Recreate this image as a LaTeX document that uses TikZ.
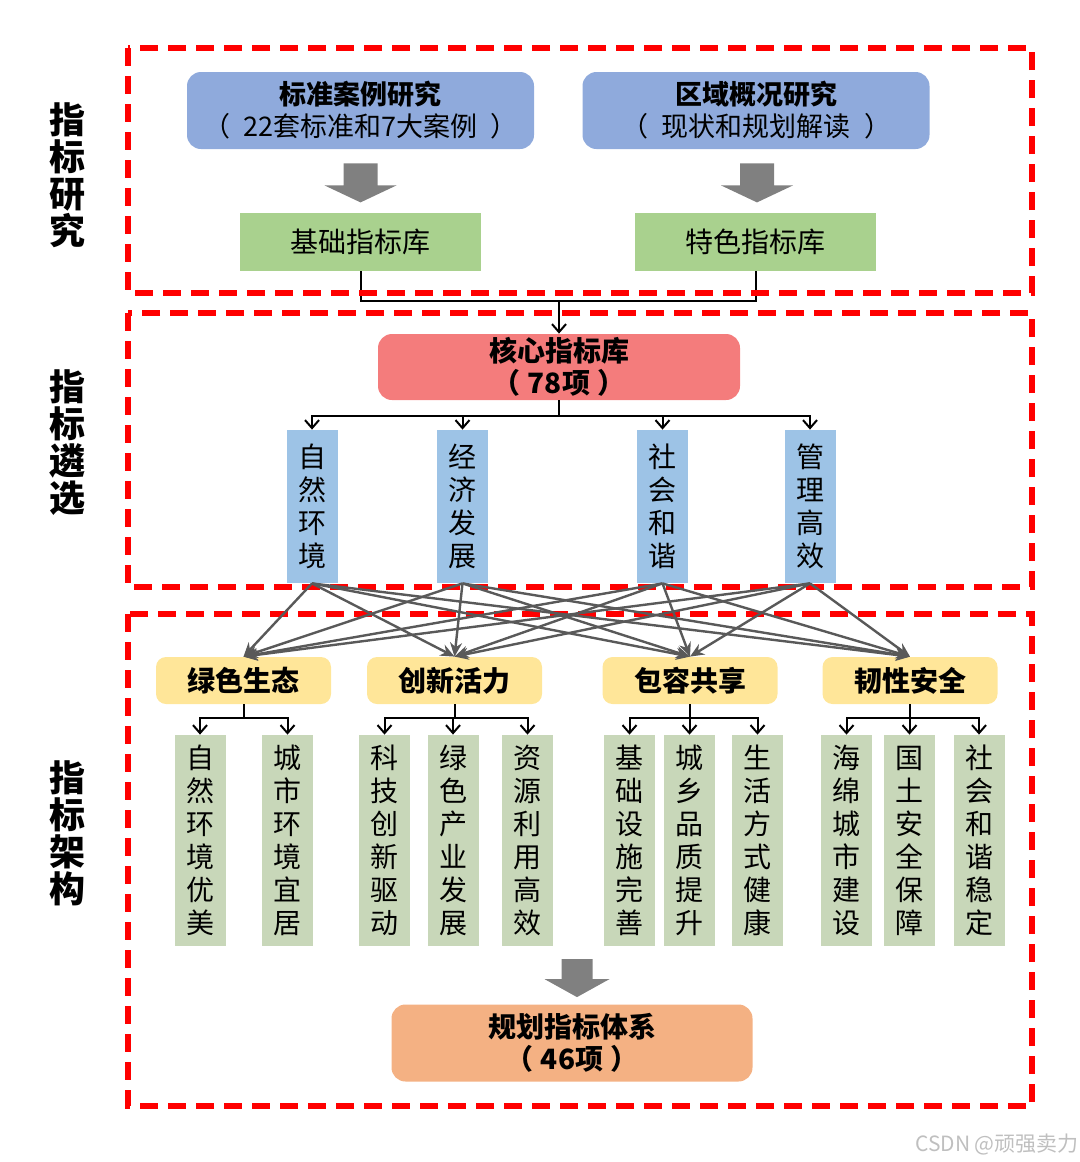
\documentclass[tikz,border=0pt]{standalone}
\usepackage{fontspec}
\setmainfont{Noto Sans CJK SC}
\usetikzlibrary{positioning,calc,arrows.meta}

\definecolor{studyBlue}{HTML}{8FAADC}
\definecolor{libGreen}{HTML}{A9D18E}
\definecolor{coreRed}{HTML}{F47C7C}
\definecolor{dimBlue}{HTML}{9DC3E6}
\definecolor{goalYellow}{HTML}{FFE699}
\definecolor{itemGreen}{HTML}{C8D7B9}
\definecolor{planOrange}{HTML}{F4B183}

\begin{document}
\begin{tikzpicture}[
    x=0.5pt, y=-0.5pt,
    zone/.style={draw=red, dash pattern=on 9pt off 5pt, line width=2.8pt},
    side/.style={font=\bfseries\fontsize{18}{18.5}\selectfont, align=center, inner sep=0pt},
    study/.style={fill=studyBlue, rounded corners=7pt, minimum width=173.5pt, minimum height=38.5pt,
      align=center, inner sep=0pt, font=\fontsize{13.5}{16}\selectfont},
    lib/.style={fill=libGreen, minimum width=120.5pt, minimum height=29pt, inner sep=0pt,
      font=\fontsize{14}{16}\selectfont},
    corebox/.style={fill=coreRed, rounded corners=7pt, minimum width=181pt, minimum height=33pt,
      align=center, inner sep=0pt, font=\bfseries\fontsize{14}{16}\selectfont},
    dim/.style={fill=dimBlue, minimum width=25.5pt, minimum height=76.5pt, text width=14pt,
      align=center, inner sep=0pt, font=\fontsize{14}{16.5}\selectfont},
    goal/.style={fill=goalYellow, rounded corners=5pt, minimum width=87.5pt, minimum height=23.5pt,
      inner sep=0pt, font=\bfseries\fontsize{14}{16}\selectfont},
    item/.style={fill=itemGreen, minimum width=25.5pt, minimum height=105.5pt, text width=14pt,
      align=center, inner sep=0pt, font=\fontsize{14}{16.5}\selectfont},
    plan/.style={fill=planOrange, rounded corners=7pt, minimum width=180.5pt, minimum height=38.5pt,
      align=center, inner sep=0pt, font=\bfseries\fontsize{14}{16}\selectfont},
    blk/.style={fill=black!50},
    wire/.style={line width=1pt, black},
    tip/.style={-{Straight Barb[length=4pt,width=7pt]}},
    fan/.style={-{Stealth[length=7pt,width=6pt]}, line width=1.2pt, black!65},
    wmark/.style={font=\fontsize{10.5}{12}\selectfont, text=black!25, inner sep=0pt},
]
\useasboundingbox (0,0) rectangle (1080,1162);

% side titles
\node[side] (s1) at (67,175) {指\\标\\研\\究};
\node[side] (s2) at (67,443) {指\\标\\遴\\选};
\node[side] (s3) at (67,833) {指\\标\\架\\构};

% research
\node[study] (std) at (360.5,110.5) {\textbf{标准案例研究}\\（\enspace 22套标准和7大案例\enspace）};
\node[study] (area) at (756,110.5) {\textbf{区域概况研究}\\（\enspace 现状和规划解读\enspace）};
\node[lib] (base) at (360.5,242) {基础指标库};
\node[lib] (feat) at (755.5,242) {特色指标库};

% selection
\node[corebox] (core) at (559,367) {核心指标库\\（\hspace{0.25em}78项\hspace{0.25em}）};
\foreach \n/\x/\t in {d1/312/{自\\然\\环\\境}, d2/462.5/{经\\济\\发\\展},
                      d3/662.5/{社\\会\\和\\谐}, d4/810/{管\\理\\高\\效}}
  \node[dim] (\n) at (\x,506.5) {\t};

% framework
\foreach \n/\x/\t in {g1/243.5/绿色生态, g2/454.5/创新活力, g3/690/包容共享, g4/910/韧性安全}
  \node[goal] (\n) at (\x,680.5) {\t};
\foreach \n/\x/\t in {i1/200/{自\\然\\环\\境\\优\\美}, i2/287.5/{城\\市\\环\\境\\宜\\居},
                      i3/384.5/{科\\技\\创\\新\\驱\\动}, i4/453/{绿\\色\\产\\业\\发\\展},
                      i5/527.5/{资\\源\\利\\用\\高\\效}, i6/629.5/{基\\础\\设\\施\\完\\善},
                      i7/689.5/{城\\乡\\品\\质\\提\\升}, i8/757.5/{生\\活\\方\\式\\健\\康},
                      i9/846.5/{海\\绵\\城\\市\\建\\设}, i10/909.5/{国\\土\\安\\全\\保\\障},
                      i11/979/{社\\会\\和\\谐\\稳\\定}}
  \node[item] (\n) at (\x,840.5) {\t};
\node[plan] (sys) at (572,1043) {规划指标体系\\（\hspace{0.25em}46项\hspace{0.25em}）};

% block arrows
\coordinate (m1) at ($(std.south)+(0,14)$);
\coordinate (m2) at ($(area.south)+(1,14)$);
\foreach \m in {m1,m2}
  \fill[blk] (\m) ++(-17,0) -- ++(34,0) -- ++(0,22) -- ++(19,0) -- ++(-36,17)
    -- ++(-36,-17) -- ++(19,0) -- cycle;
\coordinate (m3) at ($(sys.north)+(5,-45)$);
\fill[blk] (m3) ++(-15.5,0) -- ++(31,0) -- ++(0,20) -- ++(17,0) -- ++(-32.5,18)
  -- ++(-32.5,-18) -- ++(17,0) -- cycle;

% connectors
\coordinate (j1) at ($(core.north)+(0,-33)$);
\draw[wire] (base.south) |- (j1) -| (feat.south);
\draw[wire, tip] (j1) -- (core.north);
\coordinate (j2) at ($(core.south)+(0,16)$);
\draw[wire] (core.south) -- (j2);
\foreach \d in {d1,d2,d3,d4}
  \draw[wire, tip] (j2) -| (\d.north);
\foreach \g/\kids in {g1/{i1,i2}, g2/{i3,i4,i5}, g3/{i6,i7,i8}, g4/{i9,i10,i11}} {
  \draw[wire] (\g.south) -- ++(0,14) coordinate (\g-bar);
  \foreach \k in \kids
    \draw[wire, tip] (\g-bar) -| (\k.north);
}

% dashed zones
\draw[zone] (128,48) rectangle (1032,293);
\draw[zone] (128,313) rectangle (1032,587);
\draw[zone] (128,614) rectangle (1032,1106);

% dimensions to goals
\foreach \d in {d1,d2,d3,d4}
  \foreach \g in {g1,g2,g3,g4}
    \draw[fan] (\d.south) -- (\g.north);

\node[wmark] (wm) at (997,1145) {CSDN @顽强卖力};
\end{tikzpicture}
\end{document}
